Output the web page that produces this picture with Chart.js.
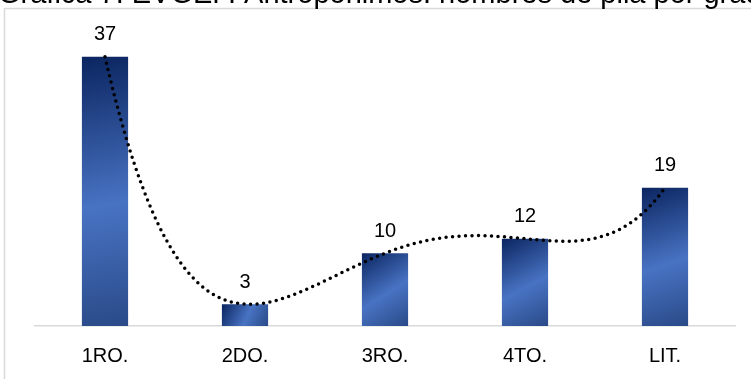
<!DOCTYPE html>
<html>
<head>
<meta charset="utf-8">
<script src="https://cdn.jsdelivr.net/npm/chart.js@4.4.1/dist/chart.umd.min.js"></script>
<style>
  html, body { margin: 0; padding: 0; background: #ffffff; }
  #wrap { position: relative; width: 751px; height: 379px; }
</style>
</head>
<body>
<div id="wrap"><canvas id="chart" width="751" height="379"></canvas></div>
<script>
// Grades and number of first names counted per grade
const categories = ['1RO.', '2DO.', '3RO.', '4TO.', 'LIT.'];
const values = [37, 3, 10, 12, 19];
const titleText = 'Gráfica 7. EVGEP. Antropónimos: nombres de pila por grado';

const FONT = '"Liberation Sans", Arial, sans-serif';

// Polynomial trendline (order 4, least squares) of the values, sampled along the category positions
function polyFit(xs, ys, order) {
  const n = order + 1;
  const A = [];
  for (let r = 0; r < n; r++) {
    const row = [];
    for (let c = 0; c < n; c++) {
      let s = 0;
      xs.forEach(x => { s += Math.pow(x, r + c); });
      row.push(s);
    }
    let t = 0;
    xs.forEach((x, i) => { t += ys[i] * Math.pow(x, r); });
    row.push(t);
    A.push(row);
  }
  for (let i = 0; i < n; i++) {
    let p = i;
    for (let k = i + 1; k < n; k++) if (Math.abs(A[k][i]) > Math.abs(A[p][i])) p = k;
    [A[i], A[p]] = [A[p], A[i]];
    for (let k = i + 1; k < n; k++) {
      const f = A[k][i] / A[i][i];
      for (let c = i; c <= n; c++) A[k][c] -= f * A[i][c];
    }
  }
  const coef = new Array(n).fill(0);
  for (let i = n - 1; i >= 0; i--) {
    let s = A[i][n];
    for (let c = i + 1; c < n; c++) s -= A[i][c] * coef[c];
    coef[i] = s / A[i][i];
  }
  return x => coef.reduce((acc, k, j) => acc + k * Math.pow(x, j), 0);
}
const xs = values.map((_, i) => i);
const trendFn = polyFit(xs, values, 4);
const trendline = [];
for (let x = 0; x <= values.length - 1 + 1e-9; x += 0.02) {
  trendline.push({ x: x, y: trendFn(x) });
}

// Dark-to-light shaded fill for each bar
function barFill(ctx) {
  const chart = ctx.chart;
  if (ctx.type !== 'data' || !chart.chartArea) return '#3a63ad';
  const i = ctx.dataIndex;
  const sx = chart.scales.x, sy = chart.scales.y;
  const cx = sx.getPixelForValue(i);
  const half = sx.width / categories.length * 0.33 / 2;
  const top = sy.getPixelForValue(values[i]);
  const bottom = sy.getPixelForValue(0);
  const g = chart.ctx.createLinearGradient(cx - half, top, cx + half, bottom);
  g.addColorStop(0, '#0b2560');
  g.addColorStop(0.55, '#4873c3');
  g.addColorStop(1, '#2a4a88');
  return g;
}

// Frame, title and value labels
const decor = {
  id: 'decor',
  beforeDraw(chart) {
    const c = chart.ctx;
    c.save();
    c.fillStyle = '#ffffff';
    c.fillRect(0, 0, chart.width, chart.height);
    c.strokeStyle = '#d9d9d9';
    c.lineWidth = 1.5;
    c.beginPath();
    c.moveTo(4.5, chart.height + 2);
    c.lineTo(4.5, 8.5);
    c.lineTo(chart.width + 2, 8.5);
    c.stroke();
    c.fillStyle = '#000000';
    c.font = '29px ' + FONT;
    c.textAlign = 'left';
    c.textBaseline = 'alphabetic';
    c.fillText(titleText, -2, 3);
    c.restore();
  },
  afterDatasetsDraw(chart) {
    const c = chart.ctx;
    const meta = chart.getDatasetMeta(1);
    c.save();
    c.fillStyle = '#000000';
    c.font = '20px ' + FONT;
    c.textAlign = 'center';
    c.textBaseline = 'middle';
    meta.data.forEach((bar, i) => {
      c.fillText(String(values[i]), bar.x, bar.y - 22);
    });
    c.restore();
  }
};

new Chart(document.getElementById('chart'), {
  type: 'bar',
  data: {
    labels: categories,
    datasets: [
      {
        type: 'line',
        label: 'Tendencia',
        data: trendline,
        xAxisID: 'xt',
        yAxisID: 'y',
        borderColor: '#000000',
        borderWidth: 3.5,
        borderDash: [0, 6.5],
        borderCapStyle: 'round',
        pointRadius: 0,
        tension: 0,
        fill: false,
        order: 1
      },
      {
        type: 'bar',
        label: 'Nombres de pila',
        data: values,
        xAxisID: 'x',
        yAxisID: 'y',
        backgroundColor: barFill,
        borderWidth: 0,
        grouped: false,
        barPercentage: 0.33,
        categoryPercentage: 1,
        order: 2
      }
    ]
  },
  options: {
    responsive: false,
    animation: false,
    layout: { padding: { left: 35, right: 16, top: 35, bottom: 12 } },
    plugins: { legend: { display: false }, tooltip: { enabled: false } },
    scales: {
      x: {
        type: 'category',
        offset: true,
        grid: { display: false, drawTicks: false },
        border: { display: true, color: '#d9d9d9', width: 1.5 },
        ticks: { color: '#000000', font: { family: FONT, size: 20 }, padding: 18 },
        afterFit(scale) { scale.height = 41; }
      },
      xt: {
        type: 'linear',
        display: false,
        offset: false,
        min: -0.5,
        max: values.length - 0.5
      },
      y: {
        display: false,
        min: 0,
        max: 40
      }
    }
  },
  plugins: [decor]
});
</script>
</body>
</html>
